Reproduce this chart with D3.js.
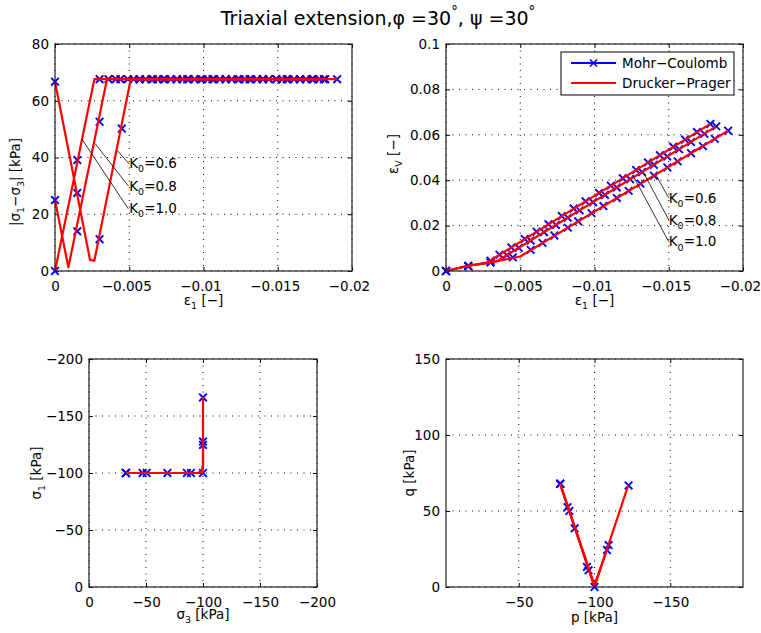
<!DOCTYPE html>
<html>
<head>
<meta charset="utf-8">
<script src="https://cdn.jsdelivr.net/npm/d3@7"></script>
<style>
  body { margin: 0; background: #fff; }
  text { font-family: "DejaVu Sans", sans-serif; }
</style>
</head>
<body>
<svg id="chart"></svg>
<script>
// ---- data ----
const k0Values = ["0.6", "0.8", "1.0"];

// Mohr-Coulomb marker points, axial strain eps1 per K0
const mcEps1_06 = [0, -0.0015, -0.003, -0.0045, -0.0057, -0.0065, -0.0073, -0.0082, -0.0089, -0.0098, -0.0106, -0.0115, -0.0123, -0.0131, -0.0140, -0.0149, -0.0156, -0.0165, -0.0173, -0.0181, -0.0190];
const mcEps1_08 = [0, -0.0015, -0.003, -0.0041, -0.0049, -0.0057, -0.0066, -0.0074, -0.0082, -0.0090, -0.0099, -0.0107, -0.0115, -0.0124, -0.0132, -0.0140, -0.0149, -0.0157, -0.0165, -0.0174, -0.0182];
const mcEps1_10 = [0, -0.0015, -0.003, -0.0036, -0.0044, -0.0053, -0.0061, -0.0069, -0.0078, -0.0086, -0.0094, -0.0103, -0.0111, -0.0119, -0.0128, -0.0136, -0.0144, -0.0153, -0.0161, -0.0169, -0.0178];
// |s1-s3| at those points
const mcQ_06 = [66.7, 27.5, 11.2, 50.2, 67.6, 67.6, 67.6, 67.6, 67.6, 67.6, 67.6, 67.6, 67.6, 67.6, 67.6, 67.6, 67.6, 67.6, 67.6, 67.6, 67.6];
const mcQ_08 = [25.0, 14.0, 52.6, 67.6, 67.6, 67.6, 67.6, 67.6, 67.6, 67.6, 67.6, 67.6, 67.6, 67.6, 67.6, 67.6, 67.6, 67.6, 67.6, 67.6, 67.6];
const mcQ_10 = [0, 39.1, 67.6, 67.6, 67.6, 67.6, 67.6, 67.6, 67.6, 67.6, 67.6, 67.6, 67.6, 67.6, 67.6, 67.6, 67.6, 67.6, 67.6, 67.6, 67.6];
// volumetric strain at those points
const mcEv_06 = [0, 0.0022, 0.0038, 0.0060, 0.0093, 0.0124, 0.0156, 0.0191, 0.0219, 0.0255, 0.0286, 0.0322, 0.0353, 0.0385, 0.0420, 0.0456, 0.0483, 0.0519, 0.0550, 0.0582, 0.0618];
const mcEv_08 = [0, 0.0022, 0.0038, 0.0070, 0.0102, 0.0134, 0.0171, 0.0203, 0.0235, 0.0267, 0.0303, 0.0335, 0.0368, 0.0404, 0.0436, 0.0468, 0.0504, 0.0536, 0.0568, 0.0604, 0.0637];
const mcEv_10 = [0, 0.0022, 0.0045, 0.0072, 0.0104, 0.0141, 0.0173, 0.0206, 0.0242, 0.0275, 0.0307, 0.0344, 0.0376, 0.0409, 0.0445, 0.0478, 0.0510, 0.0547, 0.0579, 0.0612, 0.0648];

// Drucker-Prager curves, eps1 vs |s1-s3|
const dpEps1_06 = [0, -0.00236, -0.00265, -0.0051, -0.0190];
const dpQ_06 = [66.7, 3.9, 3.6, 67.6, 67.6];
const dpEps1_08 = [0, -0.0009, -0.0035, -0.0182];
const dpQ_08 = [25.0, 1.3, 67.6, 67.6];
const dpEps1_10 = [0, -0.00265, -0.0178];
const dpQ_10 = [0, 67.6, 67.6];

// Drucker-Prager curves, eps1 vs eps_v
const dpVolEps1_06 = [0, -0.0015, -0.003, -0.005, -0.0190];
const dpVolEv_06 = [0, 0.0023, 0.0038, 0.0064, 0.0618];
const dpVolEps1_08 = [0, -0.0015, -0.003, -0.0035, -0.0182];
const dpVolEv_08 = [0, 0.0023, 0.0038, 0.0046, 0.0637];
const dpVolEps1_10 = [0, -0.0015, -0.0027, -0.0178];
const dpVolEv_10 = [0, 0.0023, 0.0035, 0.0648];

// stress path s3 - s1
const mcS3_06 = [-100, -100, -89.4, -50.6, -32.4];
const mcS1_06 = [-166.3, -127.6, -100, -100, -100];
const mcS3_08 = [-100, -85.9, -47.0, -32.4];
const mcS1_08 = [-124.6, -100, -100, -100];
const mcS3_10 = [-100, -68.8, -32.4];
const mcS1_10 = [-100, -100, -100];
const dpS3_06 = [-100, -100, -99.2, -96, -32.4];
const dpS1_06 = [-166.7, -106, -102, -100, -100];
const dpS3_08 = [-100, -100, -99.2, -96, -32.4];
const dpS1_08 = [-125, -106, -102, -100, -100];
const dpS3_10 = [-100, -96, -32.4];
const dpS1_10 = [-100, -100, -100];

// p - q
const mcP_06 = [-122.5, -109.3, -96.1, -83.4, -77.4];
const mcPQ_06 = [66.8, 27.6, 11.0, 50.0, 67.9];
const mcP_08 = [-108.2, -95.0, -82.2, -77.4];
const mcPQ_08 = [24.3, 13.2, 52.5, 67.9];
const mcP_10 = [-100, -86.9, -77.4];
const mcPQ_10 = [0, 38.6, 67.9];
const dpP_06 = [-122.2, -100.8, -99.0, -77.4];
const dpPQ_06 = [66.7, 2.5, 3.6, 67.6];
const dpP_08 = [-108.3, -100, -77.4];
const dpPQ_08 = [25.0, 1.3, 67.6];
const dpP_10 = [-100, -77.4];
const dpPQ_10 = [0, 67.6];

// ticks
const strainTicks = [0, -0.005, -0.01, -0.015, -0.02];
const strainTickLabels = ["0", "\u22120.005", "\u22120.01", "\u22120.015", "\u22120.02"];
const devTicks = [0, 20, 40, 60, 80];
const devTickLabels = ["0", "20", "40", "60", "80"];
const volTicks = [0, 0.02, 0.04, 0.06, 0.08, 0.1];
const volTickLabels = ["0", "0.02", "0.04", "0.06", "0.08", "0.1"];
const stressTicks = [0, -50, -100, -150, -200];
const stressTickLabels = ["0", "\u221250", "\u2212100", "\u2212150", "\u2212200"];
const pTicks = [-50, -100, -150];
const pTickLabels = ["\u221250", "\u2212100", "\u2212150"];
const qTicks = [0, 50, 100, 150];
const qTickLabels = ["0", "50", "100", "150"];

// ---- drawing ----
const width = 761, height = 633;
const FS = 13.5;

const svg = d3.select("#chart")
    .attr("width", width)
    .attr("height", height);

// text with sub/superscripts: parts = [[string, mode]]
function mathText(parent, x, y, parts, size, anchor, rotate) {
    const t = parent.append("text")
        .attr("font-size", size)
        .attr("fill", "#000")
        .attr("text-anchor", anchor || "start");
    if (rotate) t.attr("transform", `translate(${x},${y}) rotate(-90)`);
    else t.attr("x", x).attr("y", y);
    let shift = 0;
    parts.forEach(([s, mode]) => {
        const target = mode === "sub" ? size * 0.32 : mode === "sup" ? -size * 0.5 : 0;
        t.append("tspan")
            .attr("dy", target - shift)
            .attr("font-size", mode ? size * 0.7 : size)
            .text(s);
        shift = target;
    });
    return t;
}

function makeAxes(box, xDom, yDom, xTicks, xLabels, yTicks, yLabels, xShift) {
    const x = d3.scaleLinear().domain(xDom).range([box.left, box.right]);
    const y = d3.scaleLinear().domain(yDom).range([box.bottom, box.top]);
    const g = svg.append("g");

    // dotted grid
    g.append("g").selectAll("line").data(xTicks).join("line")
        .attr("x1", d => x(d)).attr("x2", d => x(d))
        .attr("y1", box.top).attr("y2", box.bottom)
        .attr("stroke", "#000").attr("stroke-width", 1)
        .attr("stroke-dasharray", "1,5.5");
    g.append("g").selectAll("line").data(yTicks).join("line")
        .attr("y1", d => y(d)).attr("y2", d => y(d))
        .attr("x1", box.left).attr("x2", box.right)
        .attr("stroke", "#000").attr("stroke-width", 1)
        .attr("stroke-dasharray", "1,5.5");

    const fmt = labels => (d, i) => labels[i];
    const xa = g.append("g").attr("transform", `translate(0,${box.bottom})`)
        .call(d3.axisBottom(x).tickValues(xTicks).tickFormat(fmt(xLabels))
            .tickSizeInner(-4).tickSizeOuter(0).tickPadding(10));
    if (xShift) xa.selectAll(".tick text").attr("dx", d => d < 0 ? xShift : 0);
    g.append("g").attr("transform", `translate(0,${box.top})`)
        .call(d3.axisTop(x).tickValues(xTicks).tickFormat("")
            .tickSizeInner(-4).tickSizeOuter(0));
    g.append("g").attr("transform", `translate(${box.left},0)`)
        .call(d3.axisLeft(y).tickValues(yTicks).tickFormat(fmt(yLabels))
            .tickSizeInner(-4).tickSizeOuter(0).tickPadding(6));
    g.append("g").attr("transform", `translate(${box.right},0)`)
        .call(d3.axisRight(y).tickValues(yTicks).tickFormat("")
            .tickSizeInner(-4).tickSizeOuter(0));
    g.selectAll(".domain").remove();
    g.selectAll(".tick line").attr("stroke", "#000");
    g.selectAll(".tick text")
        .attr("font-size", FS)
        .attr("font-family", "DejaVu Sans")
        .attr("fill", "#000");

    return { x, y, g, box };
}

function frame(ax) {
    const b = ax.box;
    ax.g.append("rect")
        .attr("x", b.left).attr("y", b.top)
        .attr("width", b.right - b.left).attr("height", b.bottom - b.top)
        .attr("fill", "none").attr("stroke", "#222").attr("stroke-width", 1.2);
}

function crosses(ax, xs, ys) {
    const pts = xs.map((v, i) => [ax.x(v), ax.y(ys[i])]);
    const r = 3.8;
    ax.g.append("g").selectAll("path").data(pts).join("path")
        .attr("d", d => `M${d[0]-r},${d[1]-r}L${d[0]+r},${d[1]+r}M${d[0]-r},${d[1]+r}L${d[0]+r},${d[1]-r}`)
        .attr("stroke", "#0000ff").attr("stroke-width", 1.9).attr("fill", "none");
}

function redLine(ax, xs, ys) {
    const line = d3.line().x(d => ax.x(d[0])).y(d => ax.y(d[1]));
    ax.g.append("path")
        .datum(xs.map((v, i) => [v, ys[i]]))
        .attr("d", line)
        .attr("fill", "none")
        .attr("stroke", "#ff0000")
        .attr("stroke-width", 2.2)
        .attr("stroke-linejoin", "round");
}

function leader(ax, x1, y1, x2, y2) {
    ax.g.append("line")
        .attr("x1", ax.x(x1)).attr("y1", ax.y(y1))
        .attr("x2", ax.x(x2)).attr("y2", ax.y(y2))
        .attr("stroke", "#000").attr("stroke-width", 0.8);
}

// title
mathText(svg, 378, 25, [["Triaxial extension,", ""], ["\u03c6", ""], [" =30", ""], ["\u00b0", "sup"],
    [", \u03c8 =30", ""], ["\u00b0", "sup"]], 19, "middle");

// ---- top left: eps1 vs |s1-s3| ----
const tl = makeAxes({ left: 55, right: 352, top: 44, bottom: 271 }, [0, -0.02], [0, 80],
    strainTicks, strainTickLabels, devTicks, devTickLabels, -3);
crosses(tl, mcEps1_06, mcQ_06);
crosses(tl, mcEps1_08, mcQ_08);
crosses(tl, mcEps1_10, mcQ_10);
redLine(tl, dpEps1_06, dpQ_06);
redLine(tl, dpEps1_08, dpQ_08);
redLine(tl, dpEps1_10, dpQ_10);
leader(tl, -0.0042, 42.4, -0.0050, 37.7);
leader(tl, -0.0027, 44.9, -0.00494, 30.0);
leader(tl, -0.0018, 46.6, -0.00494, 21.9);
[36.3, 28.2, 20.5].forEach((v, i) => {
    mathText(tl.g, tl.x(-0.0050), tl.y(v), [["K", ""], ["0", "sub"], ["=" + k0Values[i], ""]], FS);
});
frame(tl);
mathText(svg, 203.5, 305, [["\u03b5", ""], ["1", "sub"], [" [\u2212]", ""]], FS, "middle");
mathText(svg, 20, 182, [["|\u03c3", ""], ["1", "sub"], ["\u2212\u03c3", ""], ["3", "sub"], ["| [kPa]", ""]], FS, "middle", true);

// ---- top right: eps1 vs eps_v ----
const tr = makeAxes({ left: 446, right: 743, top: 44, bottom: 271 }, [0, -0.02], [0, 0.1],
    strainTicks, strainTickLabels, volTicks, volTickLabels, -3);
crosses(tr, mcEps1_06, mcEv_06);
crosses(tr, mcEps1_08, mcEv_08);
crosses(tr, mcEps1_10, mcEv_10);
redLine(tr, dpVolEps1_06, dpVolEv_06);
redLine(tr, dpVolEps1_08, dpVolEv_08);
redLine(tr, dpVolEps1_10, dpVolEv_10);
leader(tr, -0.01414, 0.0423, -0.0150, 0.0322);
leader(tr, -0.01333, 0.0430, -0.0150, 0.0225);
leader(tr, -0.01257, 0.0423, -0.0150, 0.0129);
[0.0300, 0.0204, 0.0108].forEach((v, i) => {
    mathText(tr.g, tr.x(-0.0150), tr.y(v), [["K", ""], ["0", "sub"], ["=" + k0Values[i], ""]], FS);
});

// legend
const lg = tr.g.append("g");
lg.append("rect").attr("x", 561).attr("y", 52).attr("width", 173).attr("height", 43)
    .attr("fill", "#fff").attr("stroke", "#000").attr("stroke-width", 1);
lg.append("line").attr("x1", 571).attr("x2", 616).attr("y1", 63).attr("y2", 63)
    .attr("stroke", "#0000ff").attr("stroke-width", 2);
lg.append("path").attr("d", "M590,59.5L597,66.5M590,66.5L597,59.5")
    .attr("stroke", "#0000ff").attr("stroke-width", 1.6);
lg.append("line").attr("x1", 571).attr("x2", 616).attr("y1", 83).attr("y2", 83)
    .attr("stroke", "#ff0000").attr("stroke-width", 2);
lg.append("text").attr("x", 622).attr("y", 68).attr("font-size", FS).text("Mohr\u2212Coulomb");
lg.append("text").attr("x", 622).attr("y", 88).attr("font-size", FS).text("Drucker\u2212Prager");
frame(tr);
mathText(svg, 594.5, 305, [["\u03b5", ""], ["1", "sub"], [" [\u2212]", ""]], FS, "middle");
mathText(svg, 398, 154, [["\u03b5", ""], ["V", "sub"], [" [\u2212]", ""]], FS, "middle", true);

// ---- bottom left: s3 vs s1 ----
const bl = makeAxes({ left: 89, right: 317, top: 359, bottom: 587 }, [0, -200], [0, -200],
    stressTicks, stressTickLabels, stressTicks, stressTickLabels);
crosses(bl, mcS3_06, mcS1_06);
crosses(bl, mcS3_08, mcS1_08);
crosses(bl, mcS3_10, mcS1_10);
redLine(bl, dpS3_06, dpS1_06);
redLine(bl, dpS3_08, dpS1_08);
redLine(bl, dpS3_10, dpS1_10);
frame(bl);
mathText(svg, 203, 619, [["\u03c3", ""], ["3", "sub"], [" [kPa]", ""]], FS, "middle");
mathText(svg, 41, 473, [["\u03c3", ""], ["1", "sub"], [" [kPa]", ""]], FS, "middle", true);

// ---- bottom right: p vs q ----
const br = makeAxes({ left: 446, right: 743, top: 359, bottom: 587 }, [-2, -198], [0, 150],
    pTicks, pTickLabels, qTicks, qTickLabels);
crosses(br, mcP_06, mcPQ_06);
crosses(br, mcP_08, mcPQ_08);
crosses(br, mcP_10, mcPQ_10);
redLine(br, dpP_06, dpPQ_06);
redLine(br, dpP_08, dpPQ_08);
redLine(br, dpP_10, dpPQ_10);
frame(br);
mathText(svg, 594.5, 622, [["p [kPa]", ""]], FS, "middle");
mathText(svg, 414, 473, [["q [kPa]", ""]], FS, "middle", true);
</script>
</body>
</html>
